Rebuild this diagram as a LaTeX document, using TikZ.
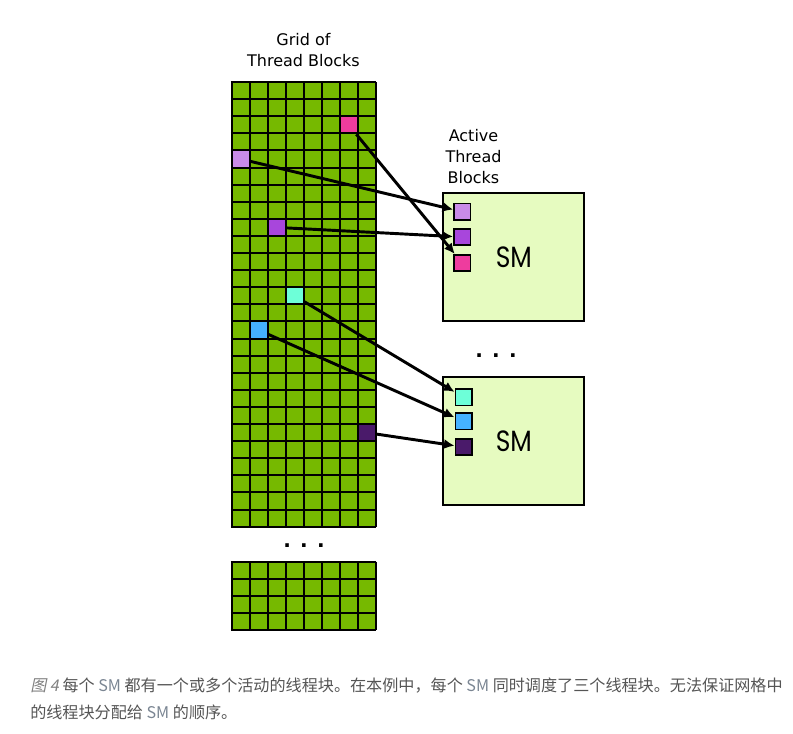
\documentclass[tikz,border=0pt]{standalone}
\usepackage{fontspec}
\usepackage{xcolor}
\usetikzlibrary{arrows.meta,positioning}
\setmainfont{DejaVu Sans}
\newfontfamily\smfont{Poppins}
\newfontfamily\cjk{Noto Sans CJK SC}
\newfontfamily\cjkslant[FakeSlant=0.2]{Noto Sans CJK SC}
\definecolor{gridgreen}{HTML}{76B900}
\definecolor{smfill}{HTML}{E6FBC0}
\definecolor{blklav}{HTML}{C98BE8}
\definecolor{blkpurple}{HTML}{A846DC}
\definecolor{blkpink}{HTML}{EE3C9E}
\definecolor{blkcyan}{HTML}{6DFFD8}
\definecolor{blkblue}{HTML}{45B2FF}
\definecolor{blkdark}{HTML}{4A1A6A}
\definecolor{capgray}{HTML}{555555}
\definecolor{capsoft}{HTML}{7A8592}

\begin{document}
\begin{tikzpicture}[
  x=0.75pt,y=-0.75pt,
  gridline/.style={line width=1.5pt,draw=black},
  cell/.style={draw=black,line width=1.5pt,fill=#1,minimum width=13.5pt,
    minimum height=12.8pt,inner sep=0pt},
  active/.style={draw=black,line width=1.2pt,fill=#1,minimum size=12.3pt,inner sep=0pt},
  smbox/.style={draw=black,line width=1.5pt,fill=smfill,minimum width=105.75pt,
    minimum height=96.2pt,inner sep=0pt,font=\smfont\fontsize{22}{22}\selectfont},
  label/.style={align=center,font=\fontsize{12}{15.75}\selectfont},
  dots/.style={anchor=base,font=\bfseries\fontsize{15}{15}\selectfont},
  flow/.style={-{Latex[length=8pt,width=7.5pt]},line width=2.2pt,draw=black}
]
\useasboundingbox (0,0) rectangle (793,733);

% grid of thread blocks
\fill[gridgreen] (231.5,82) rectangle (375.5,526.6);
\foreach \c in {0,...,8}
  \draw[gridline] (231.5+18*\c,82) -- (231.5+18*\c,526.6);
\foreach \r in {0,...,26}
  \draw[gridline] (230.75,82+17.1*\r) -- (376.25,82+17.1*\r);

% tail of the grid
\fill[gridgreen] (231.5,561.7) rectangle (375.5,630.3);
\foreach \c in {0,...,8}
  \draw[gridline] (231.5+18*\c,561.7) -- (231.5+18*\c,630.3);
\foreach \r in {0,...,4}
  \draw[gridline] (230.75,561.7+17.15*\r) -- (376.25,561.7+17.15*\r);

\node[label] (gridlbl) at (303.5,50) {Grid of\\Thread Blocks};
\node[dots] (griddots) at (304,547) {.\hspace{7pt}.\hspace{7pt}.};

% picked blocks in the grid
\node[cell=blkpink] (g1) at (348.5,124.75) {};
\node[cell=blklav] (g2) at (240.5,159.0) {};
\node[cell=blkpurple] (g3) at (276.5,227.4) {};
\node[cell=blkcyan] (g4) at (294.5,295.8) {};
\node[cell=blkblue] (g5) at (258.5,330.0) {};
\node[cell=blkdark] (g6) at (366.5,432.6) {};

% SMs
\node[smbox] (sm1) at (513.8,256.9) {\scalebox{0.85}[1]{SM}};
\node[smbox] (sm2) at (513.8,440.9) {\scalebox{0.85}[1]{SM}};
\node[label] (activelbl) at (473.5,157) {Active\\Thread\\Blocks};
\node[dots] (smdots) at (496,357) {.\hspace{7pt}.\hspace{7pt}.};

\node[active=blklav] (a1) at (462.2,211.7) {};
\node[active=blkpurple] (a2) at (462.2,237.0) {};
\node[active=blkpink] (a3) at (462.2,263.0) {};
\node[active=blkcyan] (a4) at (463.6,397.3) {};
\node[active=blkblue] (a5) at (463.6,421.3) {};
\node[active=blkdark] (a6) at (463.6,447.0) {};

\draw[flow] (g2) -- (a1);
\draw[flow] (g3) -- (a2);
\draw[flow] (g1) -- (a3);
\draw[flow] (g4) -- (a4);
\draw[flow] (g5) -- (a5);
\draw[flow] (g6) -- (a6);

% caption
\node[anchor=base west,align=left,inner sep=0pt,text=capgray,
  font=\cjk\fontsize{12.08}{20.25}\selectfont] (caption) at (30,718)
  {{\cjkslant\color{gray}图 4} 每个 {\color{capsoft}SM} 都有一个或多个活动的线程块。在本例中，每个 {\color{capsoft}SM} 同时调度了三个线程块。无法保证网格中\\
   的线程块分配给 {\color{capsoft}SM} 的顺序。};
\end{tikzpicture}
\end{document}
